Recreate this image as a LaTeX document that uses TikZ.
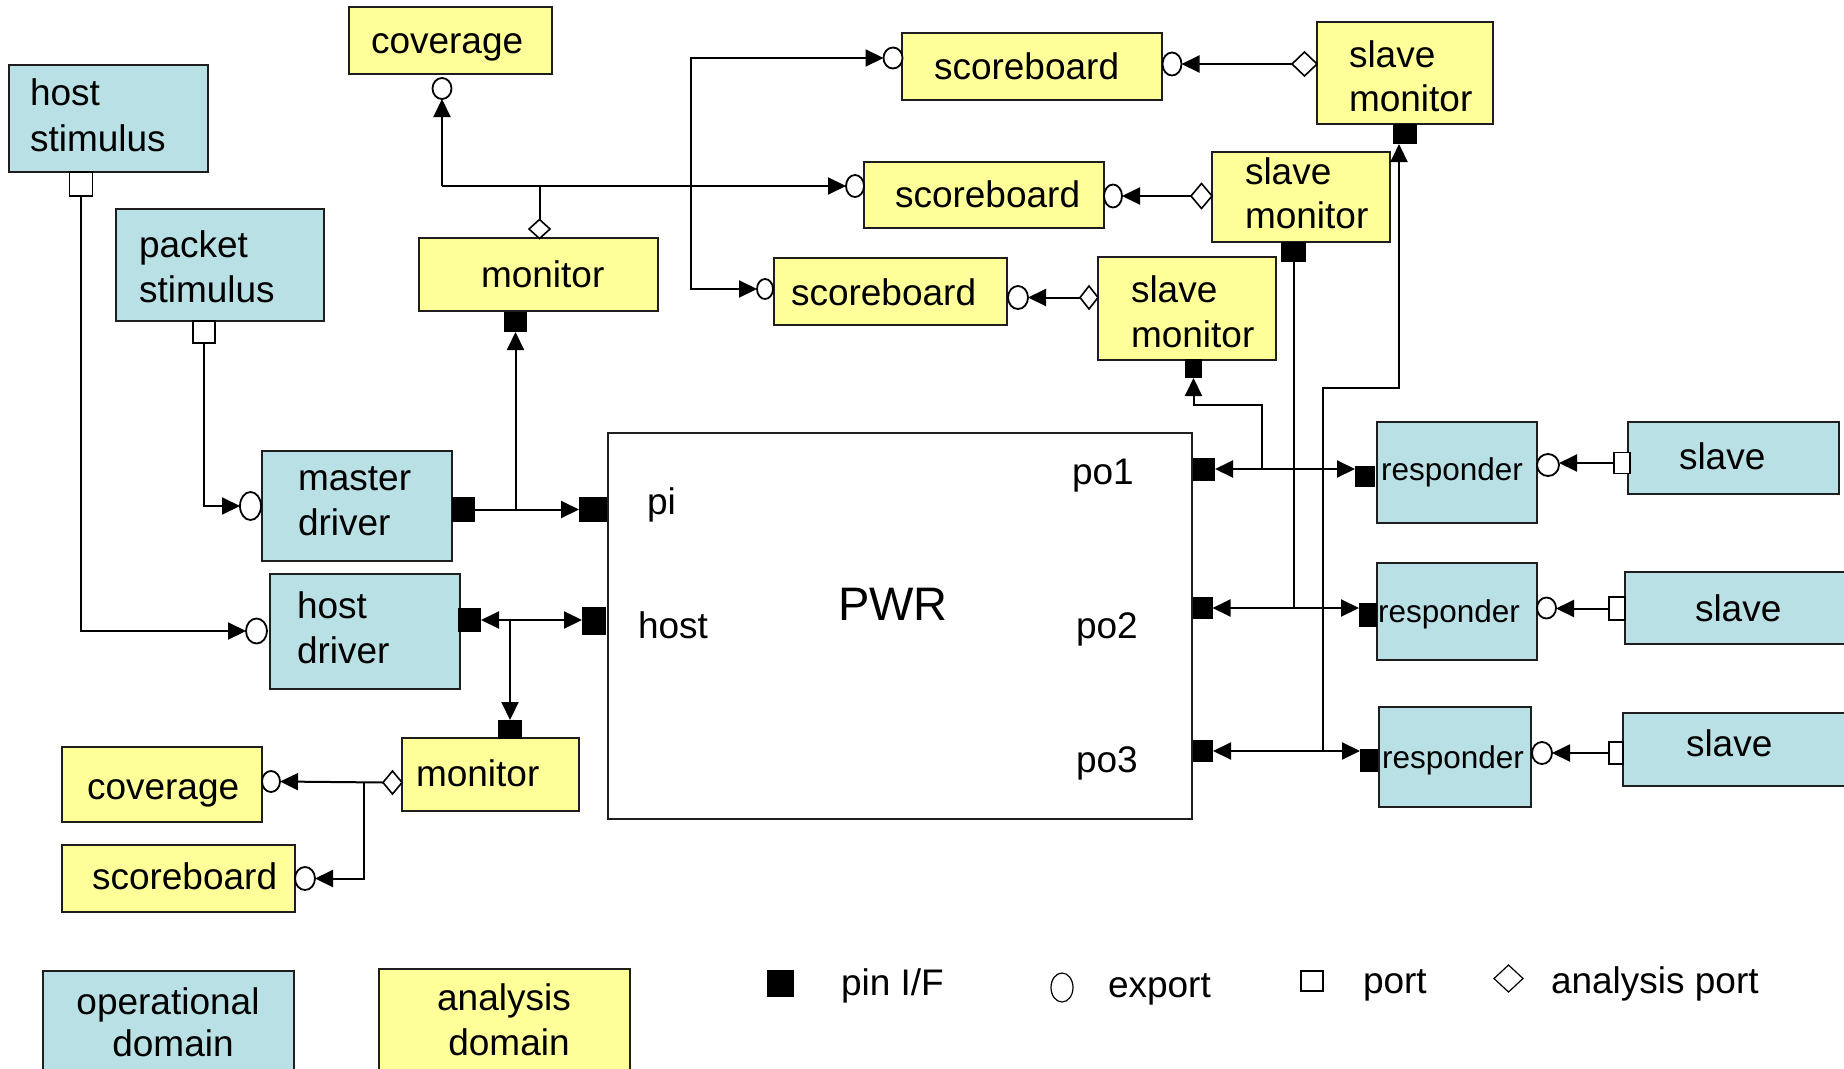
\documentclass[tikz,border=0pt]{standalone}
\usepackage{fontspec}
\setmainfont{Liberation Sans}
\usetikzlibrary{shapes.geometric,arrows.meta}
\definecolor{opblue}{RGB}{185,224,228}
\definecolor{anyellow}{RGB}{255,255,153}
\definecolor{edge}{RGB}{30,30,30}
\begin{document}
\begin{tikzpicture}[x=1pt,y=-1pt,
  every node/.style={inner sep=0pt, outer sep=0pt},
  sz/.style 2 args={minimum width=#1, minimum height=#2},
  blk/.style={rectangle, draw=edge, line width=2pt},
  opbox/.style={blk, fill=opblue},
  anbox/.style={blk, fill=anyellow},
  plainbox/.style={blk, fill=white},
  txt/.style={font=\fontsize{37}{44}\selectfont, anchor=base west},
  ctxt/.style={font=\fontsize{37}{44}\selectfont, anchor=base},
  rtxt/.style={font=\fontsize{31.5}{38}\selectfont, anchor=base west},
  pinsq/.style={rectangle, fill=black},
  expo/.style={ellipse, draw=black, fill=white, line width=1.8pt},
  portsq/.style={rectangle, draw=black, fill=white, line width=1.8pt},
  apdia/.style={diamond, draw=black, fill=white, line width=1.6pt},
  wire/.style={line width=2pt, draw=black},
  tip/.style={Triangle[length=18pt,width=17pt]},
  arr/.style={wire, -{Triangle[length=18pt,width=17pt]}},
  biarr/.style={wire, {Triangle[length=18pt,width=17pt]}-{Triangle[length=18pt,width=17pt]}},
]
\useasboundingbox[fill=white] (0,0) rectangle (1844,1068);

% ---------- operational components ----------
\node[opbox, sz={199}{107}] (hstim) at (108.5,118.5) {};
\node[opbox, sz={208}{112}] (pstim) at (220,265) {};
\node[opbox, sz={190}{110}] (mdrv) at (357,506) {};
\node[opbox, sz={190}{115}] (hdrv) at (365,631.5) {};
\node[opbox, sz={160}{101}] (resp1) at (1457,472.5) {};
\node[opbox, sz={160}{97}]  (resp2) at (1457,611.5) {};
\node[opbox, sz={152}{100}] (resp3) at (1455,757) {};
\node[opbox, sz={211}{72}]  (slv1) at (1733.5,458) {};
\node[opbox, sz={226}{72}]  (slv2) at (1738,608) {};
\node[opbox, sz={228}{73}]  (slv3) at (1737,749.5) {};

% ---------- analysis components ----------
\node[anbox, sz={203}{67}]  (covt) at (450.5,40.5) {};
\node[anbox, sz={239}{73}]  (mont) at (538.5,274.5) {};
\node[anbox, sz={260}{67}]  (sb1) at (1032,66.5) {};
\node[anbox, sz={176}{102}] (sm1) at (1405,73) {};
\node[anbox, sz={240}{66}]  (sb2) at (984,195) {};
\node[anbox, sz={178}{90}]  (sm2) at (1301,197) {};
\node[anbox, sz={233}{67}]  (sb3) at (890.5,291.5) {};
\node[anbox, sz={178}{103}] (sm3) at (1187,308.5) {};
\node[anbox, sz={177}{73}]  (monb) at (490.5,774.5) {};
\node[anbox, sz={200}{75}]  (covb) at (162,784.5) {};
\node[anbox, sz={233}{67}]  (sbb) at (178.5,878.5) {};

% ---------- DUT ----------
\node[plainbox, sz={584}{386}] (pwr) at (900,626) {};

% ---------- box labels ----------
\node[txt] (thstim1) at (30,105) {host};
\node[txt] (thstim2) at (30,151) {stimulus};
\node[txt] (tpstim1) at (139,257) {packet};
\node[txt] (tpstim2) at (139,302) {stimulus};
\node[txt] (tcovt) at (371,53) {coverage};
\node[txt] (tmont) at (481,287) {monitor};
\node[txt] (tsb1) at (934,79) {scoreboard};
\node[txt] (tsm1a) at (1349,67) {slave};
\node[txt] (tsm1b) at (1349,111) {monitor};
\node[txt] (tsb2) at (895,207) {scoreboard};
\node[txt] (tsm2a) at (1245,184) {slave};
\node[txt] (tsm2b) at (1245,228) {monitor};
\node[txt] (tsb3) at (791,305) {scoreboard};
\node[txt] (tsm3a) at (1131,302) {slave};
\node[txt] (tsm3b) at (1131,347) {monitor};
\node[txt] (tmdrv1) at (298,490) {master};
\node[txt] (tmdrv2) at (298,535) {driver};
\node[txt] (thdrv1) at (297,618) {host};
\node[txt] (thdrv2) at (297,663) {driver};
\node[txt] (tmonb) at (416,786) {monitor};
\node[txt] (tcovb) at (87,799) {coverage};
\node[txt] (tsbb) at (92,889) {scoreboard};
\node[txt] (tpi) at (647,514) {pi};
\node[txt] (thost) at (638,638) {host};
\node[font=\fontsize{47}{56}\selectfont, anchor=base west] (tpwr) at (838,620) {PWR};
\node[txt] (tpo1) at (1072,484) {po1};
\node[txt] (tpo2) at (1076,638) {po2};
\node[txt] (tpo3) at (1076,772) {po3};
\node[rtxt] (tr1) at (1381,480) {responder};
\node[rtxt] (tr2) at (1378,622) {responder};
\node[rtxt] (tr3) at (1382,768) {responder};
\node[txt] (ts1) at (1679,469) {slave};
\node[txt] (ts2) at (1695,621) {slave};
\node[txt] (ts3) at (1686,756) {slave};

% ---------- pin interfaces ----------
\node[pinsq, sz={23}{20}] (mtpin) at (515.5,322) {};
\node[pinsq, sz={23}{25}] (mdpin) at (463.5,509.5) {};
\node[pinsq, sz={28}{25}] (pipin) at (593,509.5) {};
\node[pinsq, sz={23}{24}] (hdpin) at (469.5,620) {};
\node[pinsq, sz={24}{28}] (hostpin) at (594,621) {};
\node[pinsq, sz={24}{19}] (mbpin) at (510,729.5) {};
\node[pinsq, sz={22}{23}] (po1pin) at (1204,469) {};
\node[pinsq, sz={20}{22}] (po2pin) at (1202.5,608) {};
\node[pinsq, sz={20}{22}] (po3pin) at (1203,751) {};
\node[pinsq, sz={20}{21}] (r1pin) at (1365,476.5) {};
\node[pinsq, sz={18}{24}] (r2pin) at (1368,614.5) {};
\node[pinsq, sz={18}{23}] (r3pin) at (1369,760.5) {};
\node[pinsq, sz={24}{20}] (sm1pin) at (1405,134) {};
\node[pinsq, sz={25}{20}] (sm2pin) at (1293.5,252) {};
\node[pinsq, sz={17}{19}] (sm3pin) at (1193.5,368.5) {};

% ---------- exports ----------
\node[expo, sz={19}{21}] (covtexp) at (442,88.5) {};
\node[expo, sz={19}{21}] (sb1lexp) at (893,58) {};
\node[expo, sz={19}{23}] (sb1rexp) at (1172,64) {};
\node[expo, sz={18}{22}] (sb2lexp) at (855,186) {};
\node[expo, sz={18}{23}] (sb2rexp) at (1113,196) {};
\node[expo, sz={16}{20}] (sb3lexp) at (765,289) {};
\node[expo, sz={20}{23}] (sb3rexp) at (1018,297.5) {};
\node[expo, sz={21}{28}] (mdexp) at (250.5,506) {};
\node[expo, sz={21}{25}] (hdexp) at (256.5,631) {};
\node[expo, sz={18}{21}] (covbexp) at (271,781.5) {};
\node[expo, sz={20}{23}] (sbbexp) at (305,878.5) {};
\node[expo, sz={22}{22}] (r1exp) at (1548,465) {};
\node[expo, sz={19}{21}] (r2exp) at (1546.5,608) {};
\node[expo, sz={20}{22}] (r3exp) at (1542,753) {};

% ---------- ports ----------
\node[portsq, sz={23}{24}] (hsport) at (81,184) {};
\node[portsq, sz={22}{22}] (psport) at (204,332) {};
\node[portsq, sz={16}{21}] (s1port) at (1622,463) {};
\node[portsq, sz={16}{23}] (s2port) at (1617,608.5) {};
\node[portsq, sz={14}{22}] (s3port) at (1616,753) {};

% ---------- analysis ports ----------
\node[apdia, sz={21}{19}] (mtdia) at (539.5,229) {};
\node[apdia, sz={25}{24}] (sm1dia) at (1304.5,64) {};
\node[apdia, sz={21}{25}] (sm2dia) at (1201.5,196) {};
\node[apdia, sz={18}{23}] (sm3dia) at (1089,297.5) {};
\node[apdia, sz={19}{23}] (mbdia) at (392.5,782.5) {};

% ---------- junction points ----------
\coordinate (vbus) at (691,0);
\coordinate (sm3k) at (1262,405);
\coordinate (sm1k) at (1323,388);
\coordinate (sm1t) at (1399,388);
\coordinate (mbj) at (364,782.5);
\coordinate (hdj) at (510,620);

% ---------- stimulus to drivers ----------
\draw[arr] (hsport.south) |- (hdexp.west);
\draw[arr] (psport.south) |- (mdexp.west);

% ---------- drivers to DUT ----------
\draw[arr] (mdpin.east) -- (pipin.west);
\draw[arr] (mtpin.south |- mdpin.east) -- (mtpin.south);
\draw[biarr] (hdpin.east) -- (hostpin.west |- hdpin.east);
\draw[arr] (hdj) -- (mbpin.north);

% ---------- host-side monitor ----------
\draw[arr] (mbdia.west) -- (covbexp.east);
\draw[arr] (mbj) |- (sbbexp.east);

% ---------- packet-side monitor ----------
\draw[wire] (mtdia.north) -- (mtdia.north |- sb2lexp.west);
\draw[arr] (covtexp.south |- sb2lexp.west) -- (sb2lexp.west);
\draw[arr] (covtexp.south |- sb2lexp.west) -- (covtexp.south);
\draw[arr] (vbus |- sb2lexp.west) |- (sb1lexp.west);
\draw[arr] (vbus |- sb2lexp.west) |- (sb3lexp.west);

% ---------- slave monitors to scoreboards ----------
\draw[arr] (sm1dia.west) -- (sb1rexp.east);
\draw[arr] (sm2dia.west) -- (sb2rexp.east);
\draw[arr] (sm3dia.west) -- (sb3rexp.east);

% ---------- DUT outputs to responders ----------
\draw[biarr] (po1pin.east) -- (r1pin.west |- po1pin.east);
\draw[biarr] (po2pin.east) -- (r2pin.west |- po2pin.east);
\draw[biarr] (po3pin.east) -- (r3pin.west |- po3pin.east);

% ---------- taps to slave monitors ----------
\draw[arr] (sm3k |- po1pin.east) -- (sm3k) -| (sm3pin.south);
\draw[wire] (sm2pin.south) -- (sm2pin.south |- po2pin.east);
\draw[arr] (sm1k |- po3pin.east) -- (sm1k) -- (sm1t) -- (sm1t |- sm1pin.south);

% ---------- slaves to responders ----------
\draw[arr] (s1port.west) -- (r1exp.east |- s1port.west);
\draw[arr] (s2port.west) -- (r2exp.east |- s2port.west);
\draw[arr] (s3port.west) -- (r3exp.east |- s3port.west);

% ---------- legend ----------
\node[opbox, sz={251}{110}] (lgop) at (168.5,1026) {};
\node[anbox, sz={251}{110}] (lgan) at (504.5,1024) {};
\node[ctxt] (tlgop1) at (168,1014) {operational};
\node[ctxt] (tlgop2) at (173,1056) {domain};
\node[ctxt] (tlgan1) at (504,1010) {analysis};
\node[ctxt] (tlgan2) at (509,1055) {domain};
\node[pinsq, sz={27}{27}] (lgpin) at (780.5,983.5) {};
\node[txt] (tlgpin) at (841,995) {pin I/F};
\node[ellipse, draw=black, line width=1.2pt, sz={22}{29}] (lgexp) at (1062,987.5) {};
\node[txt] (tlgexp) at (1108,997) {export};
\node[rectangle, draw=black, line width=1.2pt, sz={22}{20}] (lgport) at (1312,981) {};
\node[txt] (tlgport) at (1363,993) {port};
\node[diamond, draw=black, line width=1.2pt, sz={29}{27}] (lgdia) at (1508.5,978.5) {};
\node[txt] (tlgdia) at (1551,993) {analysis port};
\end{tikzpicture}
\end{document}
